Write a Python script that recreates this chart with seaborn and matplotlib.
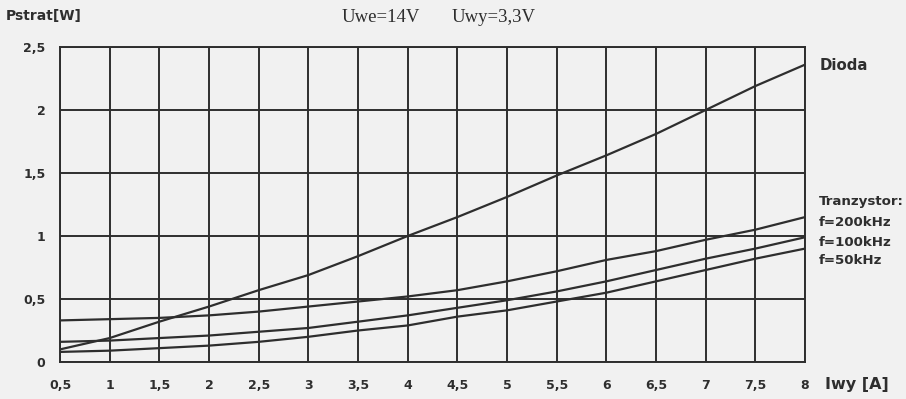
import numpy as np
import pandas as pd
import matplotlib
matplotlib.use("Agg")
import matplotlib.pyplot as plt
import seaborn as sns

# ---- data ----
iwy = [0.5, 1, 1.5, 2, 2.5, 3, 3.5, 4, 4.5, 5, 5.5, 6, 6.5, 7, 7.5, 8]
dioda = [0.10, 0.19, 0.32, 0.44, 0.57, 0.69, 0.84, 1.00, 1.15, 1.31, 1.48, 1.64, 1.81, 2.00, 2.19, 2.36]
t200 = [0.33, 0.34, 0.35, 0.37, 0.40, 0.44, 0.48, 0.52, 0.57, 0.64, 0.72, 0.81, 0.88, 0.97, 1.05, 1.15]
t100 = [0.16, 0.17, 0.19, 0.21, 0.24, 0.27, 0.32, 0.37, 0.43, 0.49, 0.56, 0.64, 0.73, 0.82, 0.90, 0.99]
t50 = [0.08, 0.09, 0.11, 0.13, 0.16, 0.20, 0.25, 0.29, 0.36, 0.41, 0.48, 0.55, 0.64, 0.73, 0.82, 0.90]
series_names = ["Dioda", "f=200kHz", "f=100kHz", "f=50kHz"]
x_ticks = [0.5, 1, 1.5, 2, 2.5, 3, 3.5, 4, 4.5, 5, 5.5, 6, 6.5, 7, 7.5, 8]
y_ticks = [0, 0.5, 1, 1.5, 2, 2.5]

df = pd.concat([
    pd.DataFrame({"Iwy": iwy, "P": vals, "series": name})
    for name, vals in zip(series_names, [dioda, t200, t100, t50])
])

def fmt(v):
    return ("%g" % v).replace(".", ",")

sns.set_theme(style="white")
plt.rcParams["font.family"] = ["DejaVu Sans"]

bg = "#f1f1f1"
ink = "#2e2e2e"
fig = plt.figure(figsize=(9.06, 3.99), dpi=100, facecolor=bg)
ax = fig.add_axes([60 / 906, 1 - 362 / 399, (805 - 60) / 906, (362 - 47) / 399])
ax.set_facecolor(bg)

sns.lineplot(data=df, x="Iwy", y="P", hue="series",
             palette={n: ink for n in series_names}, linewidth=1.6,
             legend=False, ax=ax, zorder=3)

ax.set_xlim(0.5, 8)
ax.set_ylim(0, 2.5)
ax.set_xticks(x_ticks)
ax.set_yticks(y_ticks)
ax.set_xticklabels([fmt(v) for v in x_ticks], fontsize=9, fontweight="bold", color=ink)
ax.set_yticklabels([fmt(v) for v in y_ticks], fontsize=9, fontweight="bold", color=ink)
ax.grid(True, color=ink, linewidth=1.4)
ax.tick_params(axis="both", direction="out", length=3.5, width=1.2, color=ink)
ax.tick_params(axis="x", pad=8.5)
ax.tick_params(axis="y", pad=7)
for sp in ax.spines.values():
    sp.set_visible(True)
    sp.set_color(ink)
    sp.set_linewidth(1.4)
ax.set_xlabel("")
ax.set_ylabel("")

fig.text(6 / 906, 1 - 16 / 399, "Pstrat[W]", fontsize=10, fontweight="bold",
         color=ink, va="center", ha="left")
fig.text(342 / 906, 1 - 18 / 399, "Uwe=14V", fontsize=13.5, color=ink, va="center",
         ha="left", family=["Liberation Serif", "DejaVu Serif"])
fig.text(452 / 906, 1 - 18 / 399, "Uwy=3,3V", fontsize=13.5, color=ink, va="center",
         ha="left", family=["Liberation Serif", "DejaVu Serif"])
fig.text(825 / 906, 1 - 384 / 399, "Iwy [A]", fontsize=11.5, fontweight="bold",
         color=ink, va="center", ha="left")
fig.text(820 / 906, 1 - 66 / 399, "Dioda", fontsize=10.8, fontweight="bold",
         color=ink, va="center", ha="left")
for txt, yy in [("Tranzystor:", 201), ("f=200kHz", 222), ("f=100kHz", 242), ("f=50kHz", 261)]:
    fig.text(819 / 906, 1 - yy / 399, txt, fontsize=9.6, fontweight="bold",
             color=ink, va="center", ha="left")

fig.savefig("out.png", dpi=100, facecolor=bg)
